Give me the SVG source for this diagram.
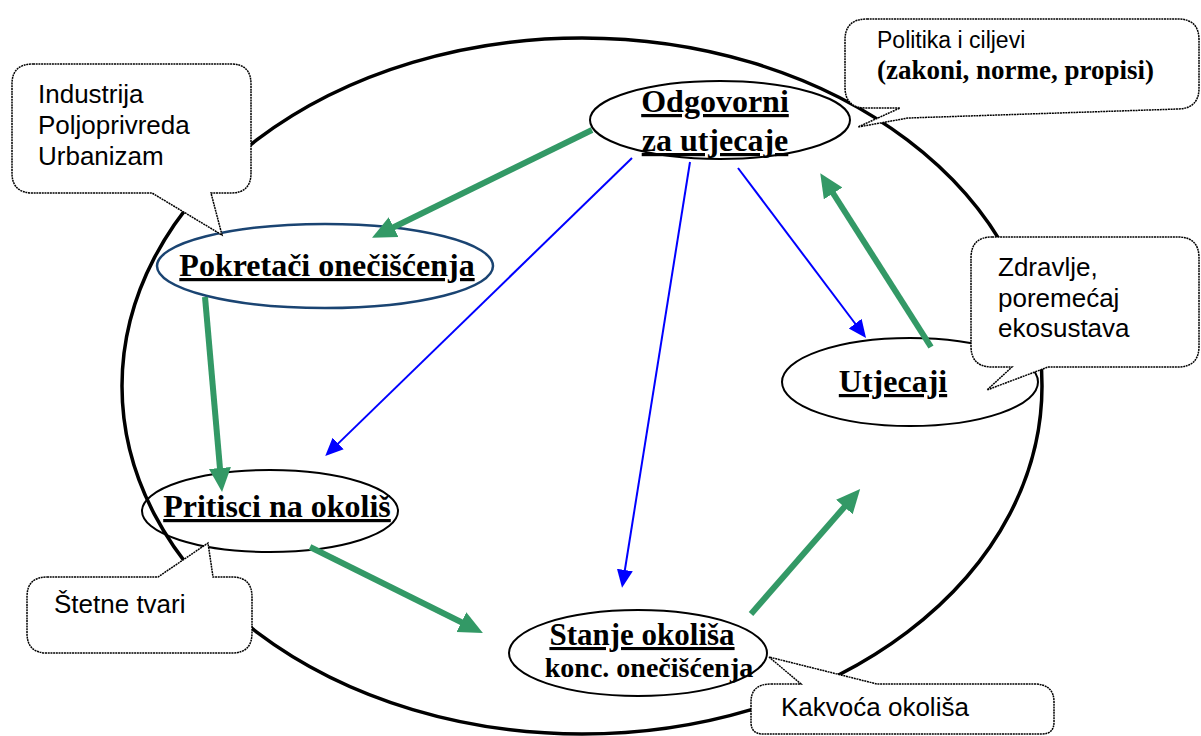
<svg xmlns="http://www.w3.org/2000/svg" width="1201" height="736" viewBox="0 0 1201 736">
<style>
.node{fill:none;stroke:#000;stroke-width:2}
.lbl{font-family:"Liberation Serif","Times New Roman",serif;font-weight:bold;font-size:32px;fill:#000;text-decoration:underline;text-decoration-thickness:3px}
.sub{font-family:"Liberation Serif","Times New Roman",serif;font-weight:bold;font-size:28px;fill:#000}
.call{fill:#fff;stroke:#000;stroke-width:1.5;stroke-dasharray:2 0.7}
.ct{font-family:"Liberation Sans",Arial,sans-serif;font-size:26px;fill:#000}
.g{stroke:#339966;stroke-width:6;fill:none}
.b{stroke:#0000ff;stroke-width:2;fill:none}
</style>
<defs>
<marker id="ag" markerUnits="userSpaceOnUse" markerWidth="26" markerHeight="24" viewBox="0 0 26 24" refX="4" refY="12" orient="auto">
<path d="M0,1 L24,12 L0,23 Z" fill="#339966"/>
</marker>
<marker id="ab" markerUnits="userSpaceOnUse" markerWidth="20" markerHeight="18" viewBox="0 0 20 18" refX="3" refY="9" orient="auto">
<path d="M0,1 L18,9 L0,17 Z" fill="#0000ff"/>
</marker>
</defs>
<rect width="1201" height="736" fill="#fff"/>
<ellipse id="cycle" cx="582" cy="386" rx="460" ry="348" fill="none" stroke="#000" stroke-width="3.5"/>

<g id="n-odgovorni">
<ellipse class="node" cx="720" cy="120" rx="130" ry="39"/>
<text class="lbl" x="715" y="112" text-anchor="middle">Odgovorni</text>
<text class="lbl" x="715" y="151" text-anchor="middle">za utjecaje</text>
</g>
<g id="n-pokretaci">
<ellipse class="node" cx="325" cy="266" rx="168" ry="42" style="stroke:#1a4472;stroke-width:2.5"/>
<text class="lbl" x="327" y="276" text-anchor="middle">Pokretači onečišćenja</text>
</g>
<g id="n-pritisci">
<ellipse class="node" cx="270" cy="511" rx="128" ry="41"/>
<text class="lbl" x="277" y="517" text-anchor="middle">Pritisci na okoliš</text>
</g>
<g id="n-utjecaji">
<ellipse class="node" cx="910" cy="382" rx="128" ry="44"/>
<text class="lbl" x="893" y="392" text-anchor="middle">Utjecaji</text>
</g>
<g id="n-stanje">
<ellipse class="node" cx="638" cy="653" rx="129" ry="43"/>
<text class="lbl" x="642" y="645" text-anchor="middle" style="font-size:31px">Stanje okoliša</text>
<text class="sub" x="649" y="677" text-anchor="middle">konc. onečišćenja</text>
</g>

<g id="c-industrija">
<path class="call" d="M33,64 H231 Q251,64 251,84 V173 Q251,193 231,193 H211 L222,235 L152,193 H33 Q12,193 12,173 V84 Q12,64 33,64 Z"/>
<text class="ct" x="38" y="103">Industrija</text>
<text class="ct" x="38" y="134">Poljoprivreda</text>
<text class="ct" x="38" y="165">Urbanizam</text>
</g>
<g id="c-politika">
<path class="call" d="M867,19 H1178 Q1199,19 1199,40 V88 Q1199,108 1179,109 L908,118 L858,127 L900,108 H866 Q845,108 845,87 V40 Q845,19 867,19 Z"/>
<text class="ct" x="877" y="48" style="font-size:23px">Politika i ciljevi</text>
<text x="877" y="79" style="font-family:'Liberation Serif','Times New Roman',serif;font-weight:bold;font-size:27px">(zakoni, norme, propisi)</text>
</g>
<g id="c-zdravlje">
<path class="call" d="M992,237 H1178 Q1199,237 1199,258 V346 Q1199,367 1178,367 H1048 L987,390 L1012,367 H992 Q971,367 971,346 V258 Q971,237 992,237 Z"/>
<text class="ct" x="998" y="276">Zdravlje,</text>
<text class="ct" x="998" y="307">poremećaj</text>
<text class="ct" x="998" y="337">ekosustava</text>
</g>
<g id="c-stetne">
<path class="call" d="M47,577 H158 L208,543 L213,577 H232 Q252,577 252,597 V633 Q252,653 232,653 H47 Q27,653 27,633 V597 Q27,577 47,577 Z"/>
<text class="ct" x="54" y="613">Štetne tvari</text>
</g>
<g id="c-kakvoca">
<path class="call" d="M771,684 H801 L769,657 L877,684 H1034 Q1054,684 1054,702 V722 Q1054,734 1042,734 H763 Q751,734 751,722 V702 Q751,684 771,684 Z"/>
<text class="ct" x="781" y="716">Kakvoća okoliša</text>
</g>

<g id="connectors">
<line class="g" x1="592" y1="130" x2="390" y2="229" marker-end="url(#ag)"/>
<line class="g" x1="205" y1="297" x2="220.3" y2="472" marker-end="url(#ag)"/>
<line class="g" x1="310" y1="547" x2="465" y2="624" marker-end="url(#ag)"/>
<line class="g" x1="751" y1="614" x2="847" y2="504" marker-end="url(#ag)"/>
<line class="g" x1="931" y1="347" x2="831" y2="190" marker-end="url(#ag)"/>
<line class="b" x1="632" y1="158" x2="336" y2="445.6" marker-end="url(#ab)"/>
<line class="b" x1="690" y1="162" x2="624.4" y2="573" marker-end="url(#ab)"/>
<line class="b" x1="738" y1="168" x2="857" y2="326" marker-end="url(#ab)"/>
</g>
</svg>
